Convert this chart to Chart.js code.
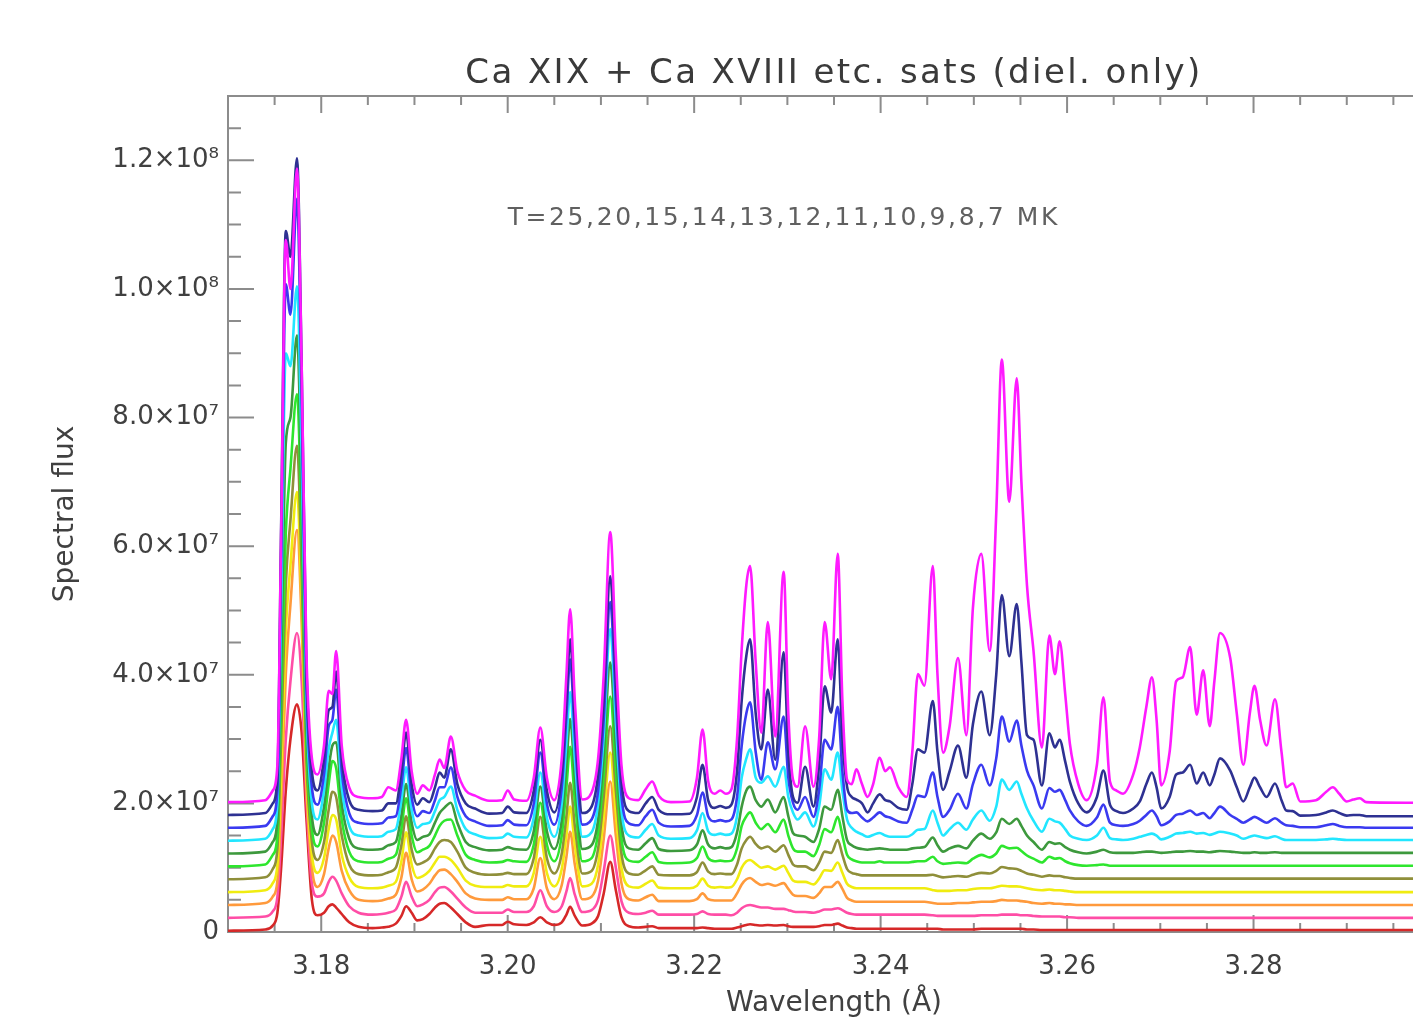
<!DOCTYPE html>
<html>
<head>
<meta charset="utf-8">
<script src="https://cdn.jsdelivr.net/npm/chart.js@4"></script>
<style>
  html, body { margin: 0; padding: 0; overflow: hidden; background: #fff; }
  canvas { display: block; }
</style>
</head>
<body>
<canvas id="spectrum" width="1480" height="1024"></canvas>
<script>
const TITLE = "Ca XIX + Ca XVIII etc. sats (diel. only)";
const X_TITLE = "Wavelength (Å)";
const Y_TITLE = "Spectral flux";
const NOTE = "T=25,20,15,14,13,12,11,10,9,8,7 MK";
const NOTE_AT = [3.2, 1.1e8]; // data coords of the note's left baseline

const xTickValues = [3.18, 3.20, 3.22, 3.24, 3.26, 3.28];
const yTickValues = [0, 2e7, 4e7, 6e7, 8e7, 1e8, 1.2e8];
const yTickLabels = ["0", "2.0×10⁷", "4.0×10⁷", "6.0×10⁷", "8.0×10⁷", "1.0×10⁸", "1.2×10⁸"];

// one curve per temperature, plotted with a vertical offset (units of 1e6)
const temperatures = [25, 20, 15, 14, 13, 12, 11, 10, 9, 8, 7];
const offsets = [0, 2, 4, 6, 8, 10, 12, 14, 16, 18, 20];
const colours = ["#d62828", "#ff4da6", "#ff9a3c", "#f0ec10", "#8f8f3a", "#2ee62e",
                 "#3d993d", "#22e6ff", "#3a3af0", "#2e3192", "#ff1aff"];

// wavelength grid (Å), shared by all curves
const wavelength = [
  3.1700, 3.1740, 3.1748, 3.1753, 3.1757, 3.1762, 3.1767, 3.1774, 3.1779, 3.1784, 3.1790, 3.1796,
  3.1803, 3.1808, 3.1812, 3.1816, 3.1822, 3.1830, 3.1840,
  3.1855, 3.1865, 3.1872, 3.1880, 3.1886, 3.1891, 3.1897, 3.1903, 3.1909, 3.1916, 3.1922, 3.1927, 3.1932, 3.1939, 3.1946, 3.1955, 3.1965,
  3.1980, 3.1994, 3.2000, 3.2007, 3.2020, 3.2028, 3.2035, 3.2042, 3.2050, 3.2058, 3.2063,
  3.2067, 3.2072, 3.2080, 3.2090, 3.2097, 3.2103, 3.2110, 3.2116, 3.2122, 3.2130, 3.2140, 3.2148, 3.2155,
  3.2162, 3.2175, 3.2195, 3.2203, 3.2209, 3.2215, 3.2222, 3.2228, 3.2234,
  3.2240, 3.2246, 3.2251, 3.2256, 3.2260, 3.2266, 3.2272, 3.2279, 3.2287, 3.2296, 3.2301, 3.2306, 3.2311, 3.2319, 3.2328, 3.2334, 3.2340,
  3.2347, 3.2354, 3.2359, 3.2364, 3.2369, 3.2374, 3.2380, 3.2386, 3.2392, 3.2399, 3.2405, 3.2410, 3.2419, 3.2428, 3.2434, 3.2440, 3.2447,
  3.2456, 3.2461, 3.2467, 3.2474, 3.2483, 3.2492, 3.2499, 3.2508, 3.2517, 3.2524,
  3.2530, 3.2538, 3.2546, 3.2551, 3.2557, 3.2564, 3.2573, 3.2581, 3.2587, 3.2592,
  3.2598, 3.2603, 3.2612, 3.2621, 3.2632, 3.2639, 3.2646, 3.2653, 3.2660, 3.2671,
  3.2678, 3.2685, 3.2691, 3.2696, 3.2701, 3.2710, 3.2717, 3.2724, 3.2732, 3.2739,
  3.2746, 3.2753, 3.2758, 3.2764, 3.2775, 3.2782, 3.2789, 3.2796, 3.2801, 3.2807,
  3.2814, 3.2823, 3.2830, 3.2835, 3.2842, 3.2850, 3.2867, 3.2878, 3.2885, 3.2892,
  3.2900, 3.2907, 3.2914, 3.2921, 3.2971, 3.3000
];

// flux in units of 1e6, without offset
const flux7 = [
  0.2, 0.5, 2, 6, 42, 87.6, 80, 98.7, 68, 24, 7, 4.5,
  9, 17.5, 17, 23.7, 9, 2.5, 1,
  0.8, 1, 2.5, 2, 7, 13, 5, 1.5, 2.8, 2, 4.5, 6.8, 5.5, 10.4, 5, 2, 1.2,
  0.4, 0.5, 2, 0.6, 0.4, 4, 11.8, 4, 0.5, 7, 20,
  30.2, 16, 0.6, 1.7, 7, 20, 42.2, 23, 6, 0.8, 0.5, 2.2, 3.4,
  1.2, 0.2, 0.3, 4, 11.5, 3.5, 1.5, 2, 1.5,
  2.2, 10, 24, 34, 36.9, 22, 11, 28.2, 10.4, 36, 14, 3.7, 2.6, 12, 2.6, 10, 28.2,
  19.3, 38.8, 16, 3.7, 3, 5.3, 3, 1, 3, 7.1, 5, 5.6, 2.5, 1, 8, 20.1, 18.3,
  36.9, 20, 7.9, 12, 22.6, 10.6, 30.4, 38.8, 23.7, 45,
  69, 46.9, 66.1, 50, 33.9, 23.7, 8.7, 26.1, 20.1, 25.2,
  17, 9.3, 3, 0.5, 6, 16.5, 3.4, 2, 1.5, 4.5,
  8.7, 15, 19.6, 13, 2.8, 8, 19, 19.6, 24.3, 13.8,
  20.7, 12, 19, 26.5, 22.6, 14, 6, 14, 18.3, 13,
  9, 16.2, 8, 2.5, 3.1, 0.3, 0.5, 1.8, 2.5, 1.5,
  0.3, 0.6, 0.8, 0.2, 0.1, 0.1
];
const flux8 = [
  0.2, 0.5, 2, 6, 45, 91, 87, 102.3, 70, 24, 7, 4,
  9, 16.5, 17, 22.5, 9, 2.5, 1,
  0.8, 0.9, 2, 2, 7, 13, 5, 1.8, 2.8, 2.2, 4.5, 6.8, 6, 10.4, 5, 2, 1.2,
  0.4, 0.5, 1.5, 0.6, 0.5, 4, 11.9, 4, 0.6, 6.5, 18,
  27.5, 15, 0.5, 1.5, 6.5, 18, 37.3, 21, 5.5, 0.8, 0.5, 2, 3,
  1, 0.3, 0.4, 3, 8, 2.5, 1.3, 1.6, 1.3,
  1.8, 7, 18, 25, 27.5, 16, 10.4, 19.7, 8.8, 25.5, 10, 3, 2.1, 7.7, 1.5, 8, 20.2,
  16.1, 27.5, 12, 4.6, 3, 2.6, 2, 0.6, 2, 3.4, 2.5, 2.3, 1.3, 1, 5, 10.4, 9.9,
  17.9, 10, 4.1, 7, 11, 6, 14.3, 19.4, 12.6, 22,
  34.4, 24.9, 33, 24, 12.6, 11.9, 4.8, 12.9, 10.7, 11.9,
  8.5, 5.4, 2, 0.6, 3, 7.1, 1.8, 0.8, 0.5, 1.2,
  2.3, 5, 6.8, 4.5, 1.2, 3, 6.5, 6.8, 8, 5.1,
  6.8, 4.8, 6.5, 9, 7.1, 4.5, 2.3, 4.5, 6, 4.5,
  3, 5.1, 2.5, 0.9, 0.8, 0.1, 0.2, 0.6, 0.9, 0.5,
  0.1, 0.2, 0.2, 0, 0, 0
];
const flux9 = [
  0.2, 0.5, 2, 6, 42, 84.7, 80, 98, 67, 23, 6.5, 3.8,
  8.5, 16, 17, 21.7, 9, 2.5, 1,
  0.8, 0.9, 1.8, 2, 6.8, 12.6, 5, 2, 2.8, 2.5, 4.5, 6.5, 6.5, 9.6, 5, 2, 1.2,
  0.5, 0.6, 1.4, 0.7, 0.6, 4, 11.9, 4, 0.7, 6.5, 17.5,
  26.4, 14.5, 0.7, 1.5, 6, 17, 35.3, 20, 5.2, 0.9, 0.6, 2, 3,
  1, 0.4, 0.5, 2.2, 5.7, 2, 1.2, 1.4, 1.2,
  1.5, 5, 13, 18, 19.7, 12, 7.7, 13.5, 9.3, 17.5, 8, 4.1, 3, 5, 1.9, 6, 13.9,
  12.4, 19, 9, 3, 2.5, 2.6, 1.8, 1.2, 1.8, 2.6, 2, 1.8, 1.2, 1, 3, 5.2, 5,
  8.8, 5, 1.9, 3, 5.5, 3.2, 7, 10, 6.8, 11,
  17.5, 13.6, 16.9, 13, 9.1, 6.8, 3.2, 6.4, 5.8, 6.1,
  4.5, 2.9, 1.2, 0.5, 1.8, 3.8, 1, 0.6, 0.5, 0.8,
  1.3, 2.2, 2.9, 2, 0.6, 1.2, 2.2, 2.4, 2.9, 2.2,
  2.5, 1.7, 2.5, 3.5, 2.2, 1.6, 1, 1.5, 1.9, 1.5,
  1, 1.7, 1, 0.6, 0.5, 0.3, 0.3, 0.6, 0.8, 0.5,
  0.3, 0.3, 0.3, 0.2, 0.2, 0.2
];
const flux10 = [
  0.2, 0.5, 2, 6, 36, 76, 74, 86.4, 60, 22, 6, 3.5,
  8, 14.5, 17, 19, 8.5, 2.5, 1,
  0.8, 0.9, 1.6, 2, 6.5, 11.6, 5, 2.2, 2.8, 3, 4.8, 6.5, 7, 8.6, 5, 2, 1.2,
  0.6, 0.7, 1.3, 0.8, 0.7, 3.8, 10.8, 3.8, 0.8, 6, 15.5,
  23.3, 13, 0.8, 1.5, 6, 16.5, 33.1, 18.5, 5, 1, 0.7, 1.9, 2.8,
  1, 0.5, 0.6, 1.8, 4.5, 1.7, 1.1, 1.3, 1.1,
  1.3, 4, 10, 13, 14.4, 10, 9.2, 10.2, 8.6, 11.7, 7, 4.6, 3.5, 4.6, 2.4, 5.5, 11.3,
  9.7, 13.9, 8, 3.5, 2.2, 1.6, 1.2, 0.8, 1.1, 1.4, 1, 0.8, 0.8, 0.8, 1.2, 1.9, 2,
  4.9, 3, 1, 2, 3, 1.9, 3.5, 4.9, 3.3, 5.5,
  9.7, 8.1, 9.4, 7.5, 5.2, 3.3, 1.6, 3.6, 3.2, 3,
  2, 1, 0.5, 0.3, 1, 2.2, 0.6, 0.4, 0.3, 0.5,
  0.8, 1.1, 1.3, 1, 0.4, 0.8, 1.3, 1.4, 1.6, 1.3,
  1.4, 1.1, 1.3, 1.6, 1.3, 1, 0.5, 0.8, 1, 0.8,
  0.6, 0.9, 0.5, 0.3, 0.3, 0.3, 0.3, 0.4, 0.5, 0.4,
  0.3, 0.3, 0.3, 0.3, 0.3, 0.3
];
const flux11 = [
  0.2, 0.5, 2, 5.5, 30, 64, 68, 80.8, 56, 21, 6, 3.1,
  7.5, 13.5, 17, 17.5, 8, 2.5, 1,
  0.8, 0.9, 1.5, 2, 6.2, 11, 5, 2.3, 2.8, 3.2, 5, 6.5, 7.3, 8.1, 5, 2, 1.2,
  0.7, 0.8, 1.2, 0.9, 0.8, 3.7, 10.6, 3.7, 0.9, 5.5, 14,
  21.1, 12, 0.9, 1.5, 5.5, 15.5, 29.9, 17, 4.8, 1, 0.8, 1.8, 2.6,
  0.9, 0.6, 0.7, 1.6, 3.8, 1.6, 1, 1.2, 1,
  1.2, 3.5, 7.5, 10, 10.6, 8.5, 7.5, 8.6, 6.6, 9, 6, 3.4, 3, 2.8, 2, 4, 7.5,
  7, 10.1, 6, 2.3, 1.5, 1.1, 0.9, 0.8, 0.9, 1, 0.9, 0.8, 0.8, 0.8, 1, 1.1, 1.2,
  2.7, 1.5, 0.5, 1, 1.4, 1, 2.2, 3.3, 2.5, 3.5,
  5.6, 4.8, 5.6, 4.5, 3, 2, 0.8, 2, 1.7, 1.8,
  1.2, 0.8, 0.4, 0.2, 0.5, 0.8, 0.4, 0.3, 0.3, 0.3,
  0.4, 0.5, 0.5, 0.4, 0.3, 0.4, 0.5, 0.5, 0.6, 0.5,
  0.5, 0.4, 0.5, 0.6, 0.5, 0.4, 0.3, 0.3, 0.4, 0.3,
  0.3, 0.4, 0.3, 0.3, 0.3, 0.3, 0.3, 0.3, 0.3, 0.3,
  0.3, 0.3, 0.3, 0.3, 0.3, 0.3
];
const flux12 = [
  0.2, 0.5, 2, 5, 26, 52, 62, 73.6, 52, 20, 6, 3.3,
  7, 13, 16.6, 15.5, 7.5, 2.5, 1,
  0.8, 0.9, 1.4, 2, 6, 10.8, 5, 2.4, 2.8, 3.4, 5, 6.5, 7.3, 7.5, 5, 2, 1.2,
  0.8, 0.9, 1.2, 1, 0.9, 3.6, 10.1, 3.6, 1, 5, 12.5,
  18.8, 10.5, 1, 1.5, 5.5, 14.5, 26.6, 15.5, 4.5, 1.1, 0.9, 1.7, 2.4,
  0.9, 0.7, 0.8, 1.5, 3.3, 1.5, 1, 1.1, 1,
  1.1, 3, 6.5, 8, 8.6, 7, 6, 6.8, 5.5, 7.5, 5, 3, 2.5, 2.5, 1.8, 3.5, 6,
  5.5, 7.9, 5, 2, 1.3, 1, 0.8, 0.8, 0.8, 1, 0.8, 0.8, 0.8, 0.8, 0.9, 1, 1,
  1.7, 1, 0.6, 0.7, 0.8, 0.7, 1.4, 2, 1.6, 2.2,
  3.4, 3, 3.1, 2.6, 1.9, 1.4, 0.8, 1.7, 1.4, 1.5,
  1, 0.7, 0.4, 0.3, 0.4, 0.5, 0.3, 0.3, 0.3, 0.3,
  0.3, 0.3, 0.3, 0.3, 0.3, 0.3, 0.3, 0.3, 0.3, 0.3,
  0.3, 0.3, 0.3, 0.3, 0.3, 0.3, 0.3, 0.3, 0.3, 0.3,
  0.3, 0.3, 0.3, 0.3, 0.3, 0.3, 0.3, 0.3, 0.3, 0.3,
  0.3, 0.3, 0.3, 0.3, 0.3, 0.3
];
const flux13 = [
  0.2, 0.5, 1.8, 5, 22, 46, 56, 67.6, 48, 19, 6, 3.2,
  6, 11, 13.8, 13, 7, 2.5, 1,
  0.8, 0.9, 1.3, 2, 5.5, 10, 4.8, 2.5, 2.8, 3.5, 5, 6, 6.3, 6, 4.5, 2, 1.2,
  0.9, 1, 1.2, 1, 1, 3.5, 9.9, 3.5, 1.1, 4.2, 10,
  15.2, 8.5, 1.1, 1.5, 5, 13, 24, 14, 4.2, 1.1, 0.9, 1.6, 2.2,
  0.9, 0.8, 0.8, 1.3, 2.8, 1.4, 1, 1.1, 1,
  1, 2.5, 5, 6.3, 6.8, 5.7, 5, 5.3, 4.5, 5.5, 4, 2.5, 2.2, 2.2, 1.6, 2.8, 4.5,
  4.3, 6.3, 4, 1.8, 1.2, 1, 0.8, 0.8, 0.8, 0.8, 0.8, 0.8, 0.8, 0.8, 0.8, 0.8, 0.8,
  0.9, 0.7, 0.5, 0.6, 0.7, 0.6, 0.9, 1.2, 1.1, 1.5,
  2.1, 1.9, 1.8, 1.5, 1.1, 0.9, 0.6, 0.8, 0.7, 0.7,
  0.5, 0.4, 0.3, 0.3, 0.3, 0.3, 0.3, 0.3, 0.3, 0.3,
  0.3, 0.3, 0.3, 0.3, 0.3, 0.3, 0.3, 0.3, 0.3, 0.3,
  0.3, 0.3, 0.3, 0.3, 0.3, 0.3, 0.3, 0.3, 0.3, 0.3,
  0.3, 0.3, 0.3, 0.3, 0.3, 0.3, 0.3, 0.3, 0.3, 0.3,
  0.3, 0.3, 0.3, 0.3, 0.3, 0.3
];
const flux14 = [
  0.2, 0.5, 1.6, 4.5, 19, 41, 51, 62.4, 45, 19, 6, 3.2,
  5.5, 10, 12.2, 11.5, 6, 2.5, 1,
  0.8, 0.9, 1.2, 1.8, 5, 9.5, 4.5, 2.4, 2.7, 3.5, 4.8, 5.7, 5.7, 5.2, 4, 2, 1.2,
  1, 1, 1.3, 1.1, 1.1, 3.2, 8.8, 3.2, 1.1, 3.8, 9,
  13.5, 7.5, 1.1, 1.5, 4.5, 12, 21.9, 12.5, 4, 1.1, 0.9, 1.5, 2,
  0.9, 0.8, 0.8, 1.2, 2.3, 1.2, 0.9, 1, 0.9,
  1, 2.2, 4, 5, 5.2, 4.6, 4, 4.2, 3.7, 4.3, 3.2, 2, 1.8, 1.8, 1.4, 2.3, 3.6,
  3.5, 4.8, 3.2, 1.5, 1, 0.8, 0.8, 0.8, 0.8, 0.8, 0.8, 0.8, 0.8, 0.8, 0.8, 0.8, 0.8,
  0.5, 0.4, 0.4, 0.4, 0.5, 0.5, 0.7, 0.8, 0.8, 1,
  1.2, 1.1, 1.1, 1, 0.8, 0.6, 0.5, 0.6, 0.5, 0.5,
  0.4, 0.3, 0.2, 0.2, 0.2, 0.2, 0.2, 0.2, 0.2, 0.2,
  0.2, 0.2, 0.2, 0.2, 0.2, 0.2, 0.2, 0.2, 0.2, 0.2,
  0.2, 0.2, 0.2, 0.2, 0.2, 0.2, 0.2, 0.2, 0.2, 0.2,
  0.2, 0.2, 0.2, 0.2, 0.2, 0.2, 0.2, 0.2, 0.2, 0.2,
  0.2, 0.2, 0.2, 0.2, 0.2, 0.2
];
const flux15 = [
  0.2, 0.5, 1.5, 4, 16, 36, 47, 58.5, 44, 19, 6, 3,
  5, 9, 11, 10, 5.5, 2.5, 1,
  0.8, 0.9, 1.2, 1.8, 4.5, 8.3, 4.2, 2.3, 2.6, 3.5, 4.8, 5.6, 5.7, 5, 3.8, 2, 1.2,
  1, 1, 1.4, 1.1, 1.1, 2.8, 7.5, 2.8, 1.1, 3.3, 7.7,
  11.6, 6.5, 1.1, 1.5, 4, 10.5, 19.4, 11, 3.6, 1.1, 0.9, 1.4, 1.8,
  0.8, 0.8, 0.8, 1.1, 2, 1.1, 0.9, 0.9, 0.9,
  0.9, 2, 3.4, 4.2, 4.4, 3.8, 3.3, 3.5, 3.2, 3.6, 2.7, 1.8, 1.6, 1.6, 1.3, 2, 3,
  3, 3.8, 2.7, 1.3, 0.9, 0.7, 0.7, 0.7, 0.7, 0.7, 0.7, 0.7, 0.7, 0.7, 0.7, 0.7, 0.7,
  0.5, 0.4, 0.4, 0.4, 0.5, 0.5, 0.6, 0.7, 0.7, 0.8,
  1, 0.9, 0.9, 0.8, 0.7, 0.5, 0.4, 0.5, 0.4, 0.4,
  0.3, 0.3, 0.2, 0.2, 0.2, 0.2, 0.2, 0.2, 0.2, 0.2,
  0.2, 0.2, 0.2, 0.2, 0.2, 0.2, 0.2, 0.2, 0.2, 0.2,
  0.2, 0.2, 0.2, 0.2, 0.2, 0.2, 0.2, 0.2, 0.2, 0.2,
  0.2, 0.2, 0.2, 0.2, 0.2, 0.2, 0.2, 0.2, 0.2, 0.2,
  0.2, 0.2, 0.2, 0.2, 0.2, 0.2
];
const flux20 = [
  0.2, 0.4, 1.2, 3.5, 13, 28, 37, 44.5, 37, 19, 5.5, 3.5,
  4, 5.8, 6.6, 6, 4, 2, 1,
  0.7, 0.8, 1, 1.5, 3.5, 5.8, 3.5, 2, 2.3, 3, 4.2, 4.9, 5, 4.3, 3.2, 1.8, 1,
  1, 1, 1.5, 1.1, 1.1, 2, 4.5, 2, 1.1, 2, 4.3,
  6.4, 3.8, 1.1, 1.4, 3, 7.5, 13, 8, 2.8, 1, 0.8, 1, 1.3,
  0.7, 0.7, 0.7, 0.8, 1.2, 0.8, 0.7, 0.7, 0.7,
  0.6, 1, 1.7, 2.1, 2.2, 2, 1.8, 1.8, 1.6, 1.6, 1.4, 1.2, 1.1, 1.1, 1, 1.2, 1.5,
  1.5, 1.7, 1.4, 1, 0.8, 0.7, 0.7, 0.7, 0.7, 0.7, 0.7, 0.7, 0.7, 0.7, 0.7, 0.7, 0.7,
  0.6, 0.5, 0.5, 0.5, 0.5, 0.5, 0.5, 0.6, 0.6, 0.6,
  0.7, 0.7, 0.7, 0.6, 0.6, 0.5, 0.4, 0.4, 0.4, 0.4,
  0.3, 0.3, 0.2, 0.2, 0.2, 0.2, 0.2, 0.2, 0.2, 0.2,
  0.2, 0.2, 0.2, 0.2, 0.2, 0.2, 0.2, 0.2, 0.2, 0.2,
  0.2, 0.2, 0.2, 0.2, 0.2, 0.2, 0.2, 0.2, 0.2, 0.2,
  0.2, 0.2, 0.2, 0.2, 0.2, 0.2, 0.2, 0.2, 0.2, 0.2,
  0.2, 0.2, 0.2, 0.2, 0.2, 0.2
];
const flux25 = [
  0.2, 0.4, 1, 3, 10, 22, 30, 35.4, 31, 18, 5, 2.6,
  3, 4, 4.3, 3.8, 2.8, 1.5, 0.8,
  0.6, 0.7, 0.8, 1.3, 2.5, 4, 3, 1.8, 2, 2.8, 3.8, 4.4, 4.5, 3.8, 2.8, 1.5, 0.8,
  1.1, 1.1, 1.6, 1.2, 1.1, 1.5, 2.3, 1.5, 1.1, 1.5, 2.7,
  3.9, 2.5, 1, 1.3, 2.5, 6, 10.9, 6.5, 2.3, 0.9, 0.7, 0.8, 0.9,
  0.6, 0.6, 0.6, 0.6, 0.7, 0.6, 0.5, 0.5, 0.5,
  0.5, 0.7, 0.9, 1.1, 1.2, 1.1, 1, 1.1, 1, 1.1, 0.9, 0.8, 0.8, 0.8, 0.8, 0.9, 1.1,
  1.1, 1.3, 1, 0.7, 0.6, 0.5, 0.5, 0.5, 0.5, 0.5, 0.5, 0.5, 0.5, 0.5, 0.5, 0.5, 0.5,
  0.5, 0.5, 0.4, 0.4, 0.4, 0.4, 0.4, 0.5, 0.5, 0.5,
  0.5, 0.5, 0.5, 0.5, 0.4, 0.4, 0.3, 0.3, 0.3, 0.3,
  0.3, 0.3, 0.3, 0.3, 0.3, 0.3, 0.3, 0.3, 0.3, 0.3,
  0.3, 0.3, 0.3, 0.3, 0.3, 0.3, 0.3, 0.3, 0.3, 0.3,
  0.3, 0.3, 0.3, 0.3, 0.3, 0.3, 0.3, 0.3, 0.3, 0.3,
  0.3, 0.3, 0.3, 0.3, 0.3, 0.3, 0.3, 0.3, 0.3, 0.3,
  0.3, 0.3, 0.3, 0.3, 0.3, 0.3
];

const series = [flux25, flux20, flux15, flux14, flux13, flux12, flux11, flux10, flux9, flux8, flux7];
series.forEach((s, k) => {
  if (s.length !== wavelength.length) console.error("length mismatch T=" + temperatures[k] + ": " + s.length + " vs " + wavelength.length);
});

const FONT = '"DejaVu Sans", sans-serif';
const textColour = "#404040";
const axisColour = "#8c8c8c";

// first dataset is drawn last, so lowest temperature (magenta) sits on top
const datasets = series.map((flux, k) => ({
  label: "T=" + temperatures[k] + " MK",
  data: wavelength.map((w, i) => ({ x: w, y: (flux[i] + offsets[k]) * 1e6 })),
  borderColor: colours[k],
  borderWidth: 2.6,
  pointRadius: 0,
  fill: false,
  cubicInterpolationMode: "monotone",
})).reverse();

// IDL-style box with inward ticks (right side lies outside the window)
const axesFrame = {
  id: "axesFrame",
  beforeDatasetsDraw(chart) {
    const { ctx, chartArea: a, scales: { x, y } } = chart;
    ctx.save();
    ctx.strokeStyle = axisColour;
    ctx.lineWidth = 2;
    ctx.beginPath();
    ctx.rect(a.left, a.top, a.right - a.left, a.bottom - a.top);
    for (let v = x.min; v <= x.max + 1e-9; v += 0.005) {
      const major = Math.abs(v / 0.02 - Math.round(v / 0.02)) < 1e-6;
      const len = major ? 17 : 9;
      const px = x.getPixelForValue(v);
      ctx.moveTo(px, a.bottom); ctx.lineTo(px, a.bottom - len);
      ctx.moveTo(px, a.top); ctx.lineTo(px, a.top + len);
    }
    for (let i = 0; i * 5e6 <= y.max; i++) {
      const len = i % 4 === 0 ? 26 : 13;
      const py = y.getPixelForValue(i * 5e6);
      ctx.moveTo(a.left, py); ctx.lineTo(a.left + len, py);
    }
    ctx.stroke();
    ctx.restore();
  }
};

const captions = {
  id: "captions",
  afterDraw(chart) {
    const { ctx, chartArea: a, scales: { x, y } } = chart;
    ctx.save();
    if ("letterSpacing" in ctx) ctx.letterSpacing = "2.4px";
    ctx.fillStyle = "#3a3a3a";
    ctx.font = "34px " + FONT;
    ctx.textAlign = "center";
    ctx.textBaseline = "alphabetic";
    ctx.fillText(TITLE, (a.left + a.right) / 2, 83);
    if ("letterSpacing" in ctx) ctx.letterSpacing = "2.6px";
    ctx.fillStyle = "#606060";
    ctx.font = "25px " + FONT;
    ctx.textAlign = "left";
    ctx.fillText(NOTE, x.getPixelForValue(NOTE_AT[0]), y.getPixelForValue(NOTE_AT[1]));
    ctx.restore();
  }
};

new Chart(document.getElementById("spectrum"), {
  type: "line",
  data: { datasets },
  options: {
    responsive: false,
    animation: false,
    events: [],
    layout: { padding: { top: 96, right: 40, left: 0, bottom: 0 } },
    plugins: {
      legend: { display: false },
      tooltip: { enabled: false },
    },
    scales: {
      x: {
        type: "linear",
        bounds: "data",
        min: 3.17,
        max: 3.30,
        grid: { display: false, drawTicks: false },
        border: { display: false },
        afterBuildTicks: (s) => { s.ticks = xTickValues.map((v) => ({ value: v })); },
        ticks: {
          autoSkip: false,
          maxRotation: 0,
          padding: 20,
          color: textColour,
          font: { family: FONT, size: 26 },
          callback: (v) => v.toFixed(2),
        },
        title: {
          display: true,
          text: X_TITLE,
          color: textColour,
          font: { family: FONT, size: 28 },
          padding: { top: 0, bottom: 3 },
        },
        afterFit: (s) => { s.height = 92; },
      },
      y: {
        type: "linear",
        bounds: "data",
        min: 0,
        max: 1.3e8,
        grid: { display: false, drawTicks: false },
        border: { display: false },
        afterBuildTicks: (s) => { s.ticks = yTickValues.map((v) => ({ value: v })); },
        ticks: {
          autoSkip: false,
          padding: 9,
          color: textColour,
          font: { family: FONT, size: 26 },
          callback: (v) => yTickLabels[yTickValues.indexOf(v)],
        },
        title: {
          display: true,
          text: Y_TITLE,
          color: textColour,
          font: { family: FONT, size: 28 },
          padding: { top: 49, bottom: 0 },
        },
        afterFit: (s) => { s.width = 228; },
      },
    },
  },
  plugins: [axesFrame, captions],
});
</script>
</body>
</html>
